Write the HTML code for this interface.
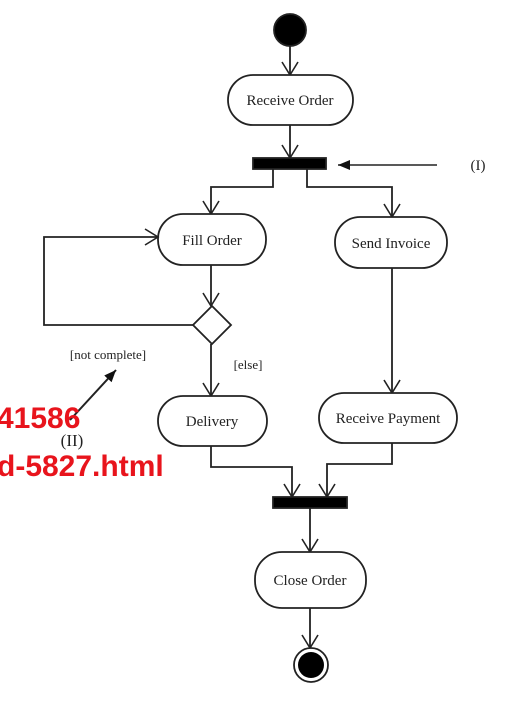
<!DOCTYPE html>
<html><head><meta charset="utf-8"><style>
html,body{margin:0;padding:0;background:#fff;width:506px;height:704px;overflow:hidden}
svg{display:block}
text{font-family:"Liberation Serif",serif;fill:#222}
</style></head><body>
<svg width="506" height="704" viewBox="0 0 506 704">
<defs>
<marker id="a" markerWidth="20" markerHeight="20" refX="15" refY="9" orient="auto" markerUnits="userSpaceOnUse">
<path d="M2,1 L15,9 L2,17" fill="none" stroke="#222" stroke-width="1.6"/>
</marker>
<marker id="f" markerWidth="14" markerHeight="12" refX="12" refY="6" orient="auto" markerUnits="userSpaceOnUse">
<path d="M0,1 L12,6 L0,11 Z" fill="#111"/>
</marker>
</defs>
<g stroke="#222" stroke-width="1.8" fill="none">
<circle cx="290" cy="30" r="16" fill="#000"/>
<line x1="290" y1="46" x2="290" y2="75" marker-end="url(#a)"/>
<rect x="228" y="75" width="125" height="50" rx="25" fill="#fff"/>
<line x1="290" y1="125" x2="290" y2="158" marker-end="url(#a)"/>
<rect x="253" y="158" width="73" height="11" fill="#000"/>
<line x1="437" y1="165" x2="338" y2="165" stroke-width="1.5" marker-end="url(#f)"/>
<polyline points="273,169 273,187 211,187 211,214" marker-end="url(#a)"/>
<polyline points="307,169 307,187 392,187 392,217" marker-end="url(#a)"/>
<rect x="158" y="214" width="108" height="51" rx="25" fill="#fff"/>
<rect x="335" y="217" width="112" height="51" rx="25" fill="#fff"/>
<line x1="211" y1="265" x2="211" y2="306" marker-end="url(#a)"/>
<polygon points="212,306 231,325 212,344 193,325" fill="#fff"/>
<polyline points="193,325 44,325 44,237 158,237" marker-end="url(#a)"/>
<line x1="211" y1="344" x2="211" y2="396" marker-end="url(#a)"/>
<line x1="392" y1="268" x2="392" y2="393" marker-end="url(#a)"/>
<rect x="158" y="396" width="109" height="50" rx="25" fill="#fff"/>
<rect x="319" y="393" width="138" height="50" rx="25" fill="#fff"/>
<polyline points="211,446 211,467 292,467 292,497" marker-end="url(#a)"/>
<polyline points="392,443 392,464 327,464 327,497" marker-end="url(#a)"/>
<rect x="273" y="497" width="74" height="11" fill="#000"/>
<line x1="310" y1="508" x2="310" y2="552" marker-end="url(#a)"/>
<rect x="255" y="552" width="111" height="56" rx="27" fill="#fff"/>
<line x1="310" y1="608" x2="310" y2="648" marker-end="url(#a)"/>
<circle cx="311" cy="665" r="17" fill="#fff"/>
<circle cx="311" cy="665" r="13" fill="#000" stroke="none"/>
<line x1="70" y1="420" x2="116" y2="370" stroke-width="2" marker-end="url(#f)"/>
</g>
<g font-size="15" text-anchor="middle">
<text x="290" y="105">Receive Order</text>
<text x="212" y="245">Fill Order</text>
<text x="391" y="248">Send Invoice</text>
<text x="212" y="426">Delivery</text>
<text x="388" y="423">Receive Payment</text>
<text x="310" y="585">Close Order</text>
<text x="478" y="170" font-size="15">(I)</text>
<text x="248" y="369" font-size="13">[else]</text>
<text x="108" y="359" font-size="13">[not complete]</text>
<text x="72" y="446" font-size="17">(II)</text>
</g>
<text x="-3" y="428" style="fill:#e8141c;font-family:'Liberation Sans',sans-serif;font-weight:bold;font-size:30px">41586</text>
<text x="-3" y="476" style="fill:#e8141c;font-family:'Liberation Sans',sans-serif;font-weight:bold;font-size:30px">d-5827.html</text>
</svg>
</body></html>
